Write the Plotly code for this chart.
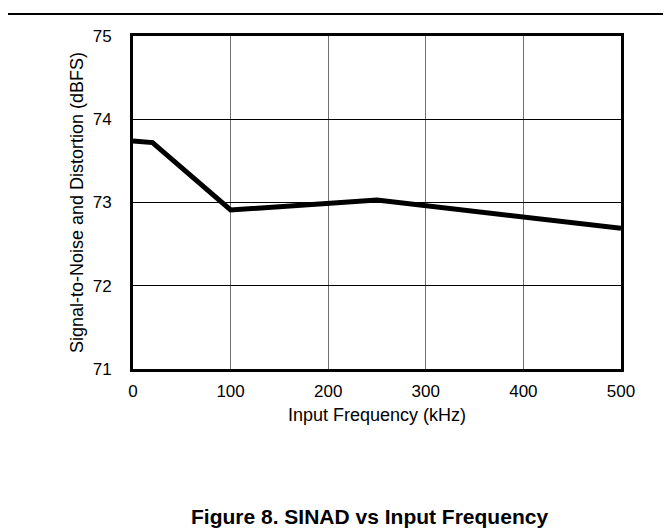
import plotly.graph_objects as go

freq_khz = [0, 20, 100, 250, 500]
sinad_dbfs = [73.74, 73.72, 72.91, 73.03, 72.69]
x_ticks = [0, 100, 200, 300, 400, 500]
y_ticks = [71, 72, 73, 74, 75]

W, H = 671, 529
L, R, T, B = 125, 613, 28, 361
FONT = "Liberation Sans, Arial, sans-serif"

fig = go.Figure()
fig.add_trace(go.Scatter(x=freq_khz, y=sinad_dbfs, mode="lines",
                         line=dict(color="black", width=5), showlegend=False,
                         hoverinfo="skip"))

fig.update_layout(
    width=W, height=H,
    margin=dict(l=L, r=W - R, t=T, b=H - B, pad=0),
    paper_bgcolor="white", plot_bgcolor="white",
    font=dict(family=FONT, color="black", size=17),
    xaxis=dict(range=[0, 500], tickvals=x_ticks, ticks="", showgrid=True,
               gridcolor="#707070", gridwidth=1, zeroline=False,
               showline=True, linecolor="black", linewidth=3, mirror=True,
               tickfont=dict(size=17), ticklabelstandoff=5,
               title=dict(text="Input Frequency (kHz)", font=dict(size=18), standoff=8)),
    yaxis=dict(range=[71, 75], tickvals=y_ticks, ticks="", showgrid=True,
               gridcolor="black", gridwidth=1, zeroline=False,
               showline=True, linecolor="black", linewidth=3, mirror=True,
               tickfont=dict(size=17), ticklabelstandoff=15,
               title=dict(text="Signal-to-Noise and Distortion (dBFS)", font=dict(size=18), standoff=5)),
)

fig.add_shape(type="line", xref="paper", yref="paper", x0=-L / (R - L), x1=(W - L) / (R - L),
              y0=1 + (T - 6) / (B - T), y1=1 + (T - 6) / (B - T),
              line=dict(color="black", width=2))

fig.add_annotation(text="<b>Figure 8. SINAD vs Input Frequency</b>", xref="paper", yref="paper",
                   x=(361 - L) / (R - L), y=1 - (508 - T) / (B - T), showarrow=False,
                   xanchor="center", yanchor="middle", font=dict(size=21, family=FONT))

fig.write_html("out.html")
